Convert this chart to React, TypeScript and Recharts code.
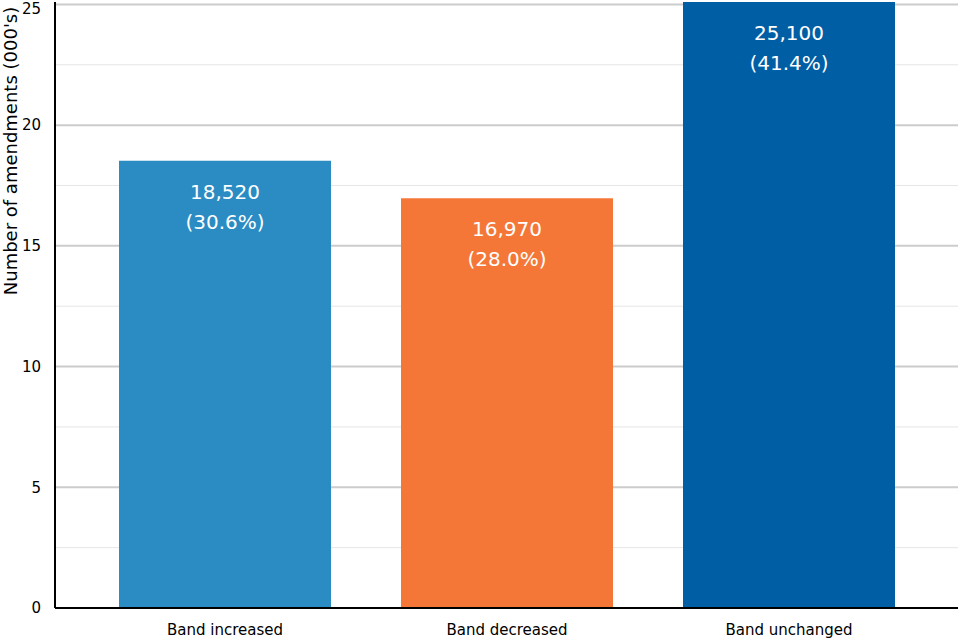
import React from 'react';
import { BarChart, Bar, XAxis, YAxis, CartesianGrid, Cell, LabelList, Label } from 'recharts';

const categories = ['Band increased', 'Band decreased', 'Band unchanged'];
const values = [18.52, 16.97, 25.1];
const counts = ['18,520', '16,970', '25,100'];
const shares = ['(30.6%)', '(28.0%)', '(41.4%)'];
const colors = ['#2b8cc4', '#f47738', '#005ea5'];
const majorTicks = [0, 5, 10, 15, 20, 25];
const minorTicks = [2.5, 7.5, 12.5, 17.5, 22.5];

const data = categories.map((name, i) => ({
  name,
  value: values[i],
  count: counts[i],
  share: shares[i],
}));

const font = 'DejaVu Sans, sans-serif';

const BarText = (props: any) => {
  const { x, y, width, index } = props;
  const cx = Number(x) + Number(width) / 2;
  const top = Number(y);
  return (
    <text x={cx} textAnchor="middle" fill="#ffffff" fontSize={20} fontFamily={font}>
      <tspan x={cx} y={top + 38}>{counts[index]}</tspan>
      <tspan x={cx} y={top + 68}>{shares[index]}</tspan>
    </text>
  );
};

const YTitle = (props: any) => {
  const vb = props.viewBox || {};
  const x = 10;
  const y = Number(vb.y || 0) + 149;
  return (
    <text
      x={x}
      y={y}
      transform={`rotate(-90, ${x}, ${y})`}
      textAnchor="middle"
      dominantBaseline="central"
      fontSize={18}
      fontFamily={font}
      fill="#000"
    >
      Number of amendments (000's)
    </text>
  );
};

export default function App() {
  return (
    <div style={{ position: 'absolute', left: 0, top: 0, background: '#fff' }}>
      <BarChart
        width={960}
        height={640}
        data={data}
        margin={{ top: 2, right: 2, bottom: 0, left: 0 }}
        barCategoryGap={35}
      >
        <CartesianGrid vertical={false} horizontalValues={minorTicks} stroke="#e6e6e6" strokeWidth={1} />
        <CartesianGrid vertical={false} horizontalValues={majorTicks.slice(1)} stroke="#cccccc" strokeWidth={2} />
        <XAxis
          dataKey="name"
          height={32}
          padding={{ left: 29, right: 28 }}
          tickLine={false}
          axisLine={{ stroke: '#000', strokeWidth: 2 }}
          tick={{ fontSize: 15, fontFamily: font, fill: '#000' }}
          tickMargin={10}
        />
        <YAxis
          width={55}
          domain={[0, 25]}
          ticks={majorTicks}
          tickLine={false}
          axisLine={{ stroke: '#000', strokeWidth: 2 }}
          tick={{ fontSize: 15, fontFamily: font, fill: '#000' }}
          tickMargin={8}
        >
          <Label content={<YTitle />} />
        </YAxis>
        <Bar dataKey="value" isAnimationActive={false}>
          {data.map((d, i) => (
            <Cell key={d.name} fill={colors[i]} />
          ))}
          <LabelList dataKey="value" content={<BarText />} />
        </Bar>
      </BarChart>
    </div>
  );
}
